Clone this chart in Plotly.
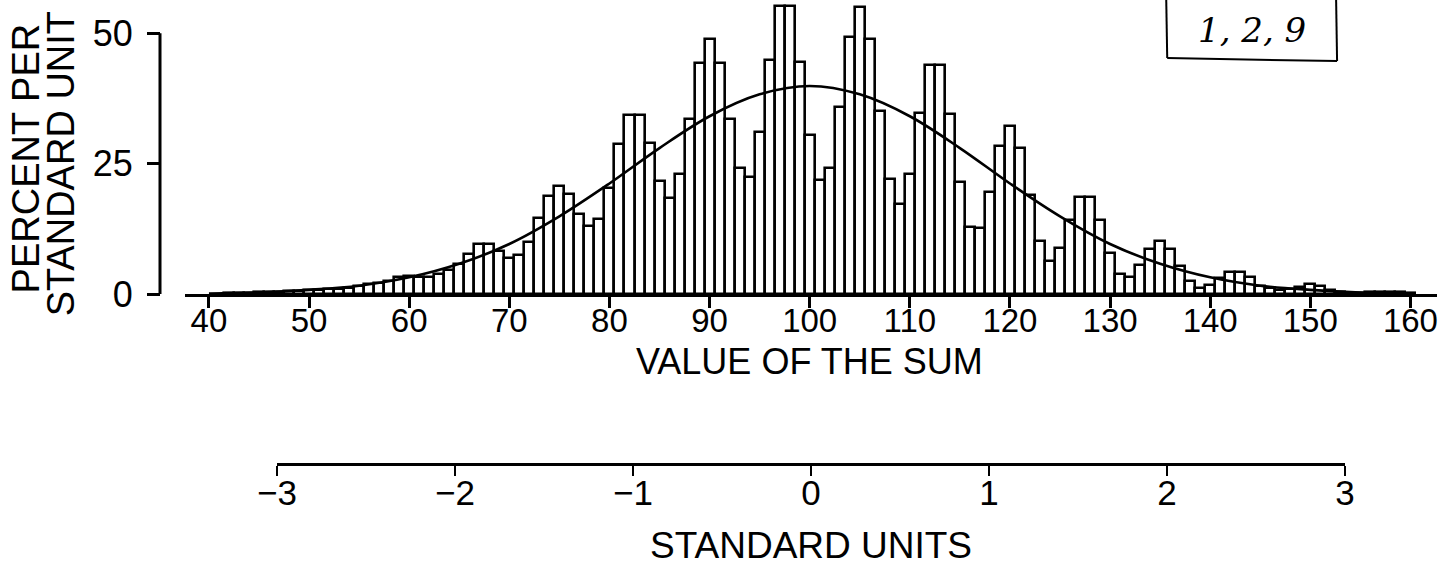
import plotly.graph_objects as go

# ---- data ----
sums = list(range(42, 161))
heights = [0.2, 0.2, 0.25, 0.3, 0.35, 0.4, 0.5, 0.55, 0.7, 0.8,          # 42-51
           1.0, 1.0, 1.2, 1.5, 1.9, 2.2, 2.5, 3.3, 3.4, 3.3,             # 52-61
           3.2, 3.8, 4.7, 5.7, 7.6, 9.5, 9.5, 8.2, 7.0, 7.5,             # 62-71
           10.0, 14.5, 18.8, 20.7, 19.1, 15.3, 13.0, 14.4, 20.4, 28.7,   # 72-81
           34.3, 34.3, 29.0, 21.6, 18.5, 23.1, 33.6, 44.4, 49.0, 44.4,   # 82-91
           33.6, 24.1, 22.5, 31.1, 44.8, 55.2, 55.2, 44.6, 30.5, 21.8,   # 92-101
           24.1, 35.8, 49.3, 55.1, 49.0, 35.1, 22.0, 17.2, 23.1, 34.8,   # 102-111
           44.0, 44.0, 34.6, 21.5, 12.8, 12.6, 19.6, 28.4, 32.2, 28.1,   # 112-121
           19.0, 10.2, 6.3, 8.9, 14.2, 18.6, 18.6, 14.2, 7.8, 3.8,       # 122-131
           3.3, 5.6, 8.6, 10.2, 8.7, 5.4, 2.5, 1.2, 1.7, 3.0,            # 132-141
           4.3, 4.2, 3.2, 1.5, 1.1, 0.8, 1.0, 1.3, 1.9, 1.5,             # 142-151
           0.8, 0.4, 0.2, 0.2, 0.3, 0.4, 0.4, 0.3, 0.2]                  # 152-160

curve_x = list(range(40, 161, 5))
curve_y = [0.1, 0.3, 0.8, 1.6, 3.2, 5.8, 9.6, 14.9, 21.2, 28.0, 34.1, 38.3, 39.9,
           38.3, 34.1, 28.0, 21.2, 14.9, 9.6, 5.8, 3.2, 1.6, 0.8, 0.3, 0.1]

sum_ticks = list(range(40, 161, 10))
y_ticks = [0, 25, 50]
su_ticks = [-3, -2, -1, 0, 1, 2, 3]
su_labels = ["\u22123", "\u22122", "\u22121", "0", "1", "2", "3"]

x_title = "VALUE OF THE SUM"
su_title = "STANDARD UNITS"
y_title_lines = ["PERCENT PER", "STANDARD UNIT"]
box_text = "1, 2, 9"

# ---- layout geometry (pixels of the 1447x573 picture) ----
W, H_REF = 1447, 573
H = 595          # page height that ends up photographed as 573 px
ML, MR = 160, 9
PW = W - ML - MR
def px(xp):  # paper x from pixel
    return (xp - ML) / PW
def py(yp):  # paper y from pixel (fractions are height independent)
    return 1 - yp / H_REF

FONT = "Liberation Sans, Arial, Helvetica, sans-serif"
BLACK = "black"

fig = go.Figure()
fig.add_trace(go.Bar(
    x=sums, y=heights, width=1,
    marker=dict(color="white", line=dict(color=BLACK, width=2.6)),
    showlegend=False, hoverinfo="x+y",
))
fig.add_trace(go.Scatter(
    x=curve_x, y=curve_y, mode="lines",
    line=dict(color=BLACK, width=2.6, shape="spline", smoothing=1.0),
    showlegend=False, hoverinfo="skip",
))
# anchor trace for the standard-units axis (invisible)
fig.add_trace(go.Scatter(
    x=[su_ticks[3]], y=[y_ticks[0]], xaxis="x2", yaxis="y",
    mode="markers", marker=dict(opacity=0), showlegend=False, hoverinfo="skip",
))

x_lo = 40 + (185 - 209) / 10.02
x_hi = 40 + (1438 - 209) / 10.02
y_hi = 293.5 / 5.204

fig.update_layout(
    width=W, height=H,
    margin=dict(l=ML, r=MR, t=0, b=0),
    paper_bgcolor="white", plot_bgcolor="rgba(0,0,0,0)",
    font=dict(family=FONT, color=BLACK),
    bargap=0,
    xaxis=dict(
        domain=[px(185), 1], range=[x_lo, x_hi], anchor="y",
        showline=True, linecolor=BLACK, linewidth=3,
        ticks="outside", ticklen=11, tickwidth=2.5, tickcolor=BLACK,
        tickvals=sum_ticks, tickfont=dict(size=33), ticklabelstandoff=-16,
        showgrid=False, zeroline=False,
    ),
    yaxis=dict(
        domain=[py(293.5), 1], range=[0, y_hi], anchor="free", position=0,
        showline=False,
        ticks="outside", ticklen=13, tickwidth=2.5, tickcolor=BLACK,
        tickvals=y_ticks, tickfont=dict(size=36), ticklabelstandoff=7,
        showgrid=False, zeroline=False,
    ),
    xaxis2=dict(
        domain=[px(277), px(1346)], range=[-3, 3], anchor="free", position=py(463),
        showline=True, linecolor=BLACK, linewidth=2.5,
        ticks="outside", ticklen=10, tickwidth=2, tickcolor=BLACK,
        tickvals=su_ticks, ticktext=su_labels, tickfont=dict(size=35),
        ticklabelstandoff=-13,
        showgrid=False, zeroline=False,
    ),
    shapes=[
        dict(type="line", xref="paper", yref="y", x0=0, x1=0, y0=0, y1=50,
             line=dict(color=BLACK, width=3)),
        # hand-drawn box, top right
        dict(type="line", xref="paper", yref="paper", x0=px(1167), x1=px(1168),
             y0=py(-2), y1=py(58), line=dict(color=BLACK, width=2)),
        dict(type="line", xref="paper", yref="paper", x0=px(1168), x1=px(1338),
             y0=py(58), y1=py(61), line=dict(color=BLACK, width=2)),
        dict(type="line", xref="paper", yref="paper", x0=px(1337), x1=px(1338),
             y0=py(-2), y1=py(61), line=dict(color=BLACK, width=2)),
    ],
    annotations=[
        dict(text=x_title, xref="x", yref="paper", x=100, y=py(361),
             xanchor="center", yanchor="middle", showarrow=False,
             font=dict(size=36)),
        dict(text=su_title, xref="x2", yref="paper", x=0, y=py(545),
             xanchor="center", yanchor="middle", showarrow=False,
             font=dict(size=37)),
        dict(text=y_title_lines[0], xref="paper", yref="paper", x=px(26), y=py(158),
             xanchor="center", yanchor="middle", showarrow=False, textangle=-90,
             font=dict(size=38)),
        dict(text=y_title_lines[1], xref="paper", yref="paper", x=px(61), y=py(164),
             xanchor="center", yanchor="middle", showarrow=False, textangle=-90,
             font=dict(size=38)),
        dict(text="<i>" + box_text + "</i>", xref="paper", yref="paper",
             x=px(1253), y=py(30), xanchor="center", yanchor="middle",
             showarrow=False, font=dict(size=34, family="DejaVu Serif, serif")),
    ],
)

fig.write_html(
    "out.html",
    config={"displayModeBar": False},
    post_script=(
        "var h=document.documentElement,b=document.body;"
        "h.style.margin='0';h.style.padding='0';h.style.overflow='hidden';"
        "b.style.margin='0';b.style.padding='0';b.style.overflow='hidden';"
    ),
)
